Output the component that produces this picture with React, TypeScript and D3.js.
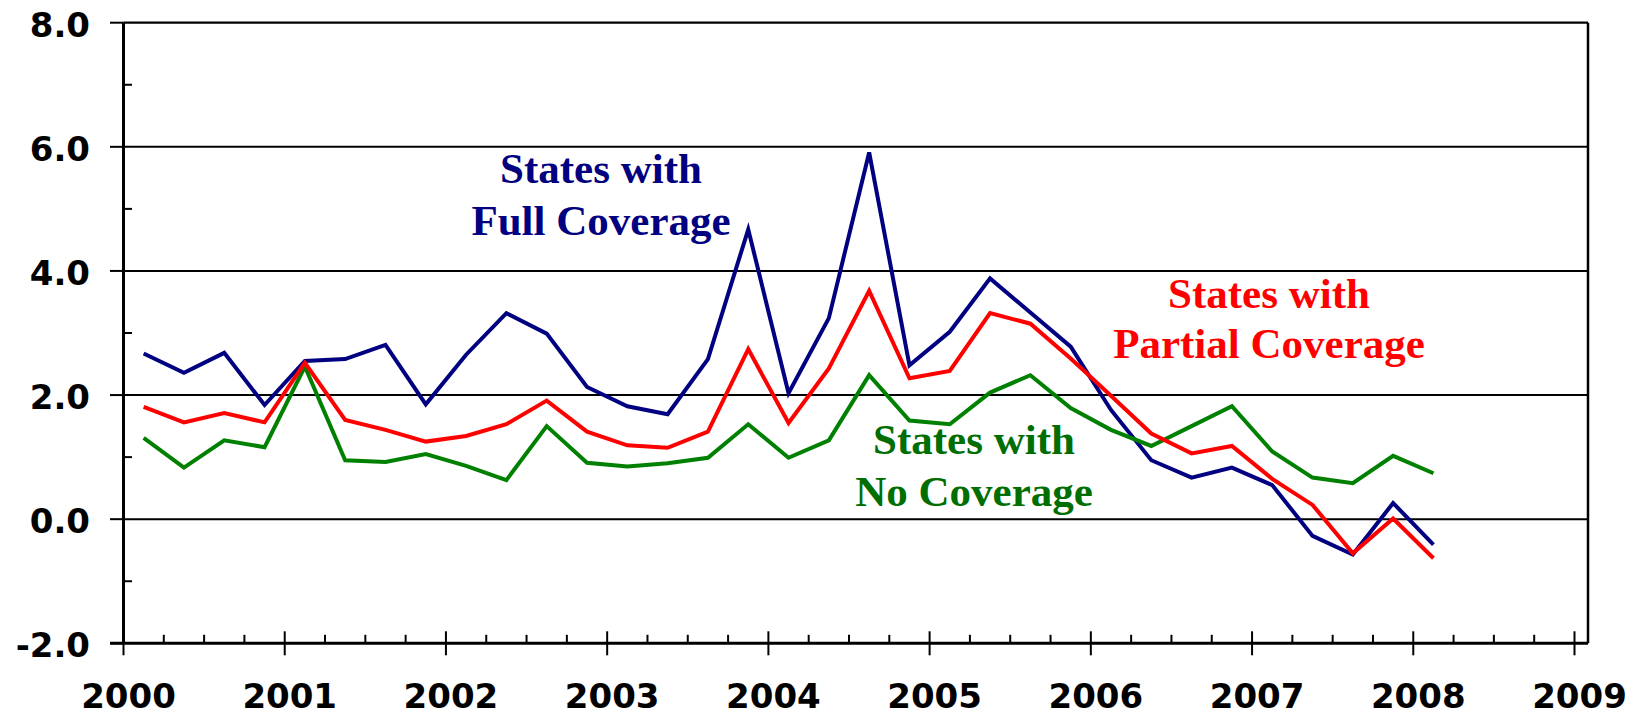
import React from "react";
import * as d3 from "d3";

// ---- Data ----
const quarterLabels = [
  "2000Q1","2000Q2","2000Q3","2000Q4",
  "2001Q1","2001Q2","2001Q3","2001Q4",
  "2002Q1","2002Q2","2002Q3","2002Q4",
  "2003Q1","2003Q2","2003Q3","2003Q4",
  "2004Q1","2004Q2","2004Q3","2004Q4",
  "2005Q1","2005Q2","2005Q3","2005Q4",
  "2006Q1","2006Q2","2006Q3","2006Q4",
  "2007Q1","2007Q2","2007Q3","2007Q4",
  "2008Q1",
];

const fullCoverage = [
  2.67, 2.36, 2.68, 1.84,
  2.55, 2.58, 2.81, 1.85,
  2.65, 3.32, 2.99, 2.13,
  1.82, 1.69, 2.58, 4.67,
  2.03, 3.24, 5.91, 2.48,
  3.02, 3.88, 3.33, 2.78,
  1.76, 0.95, 0.67, 0.83,
  0.55, -0.27, -0.57, 0.26,
  -0.41,
];

const partialCoverage = [
  1.81, 1.56, 1.71, 1.56,
  2.52, 1.60, 1.44, 1.25,
  1.34, 1.53, 1.91, 1.41,
  1.19, 1.15, 1.41, 2.74,
  1.55, 2.43, 3.68, 2.27,
  2.39, 3.32, 3.15, 2.59,
  1.99, 1.38, 1.06, 1.18,
  0.65, 0.23, -0.55, 0.01,
  -0.63,
];

const noCoverage = [
  1.31, 0.83, 1.27, 1.16,
  2.46, 0.95, 0.92, 1.05,
  0.86, 0.63, 1.50, 0.91,
  0.85, 0.90, 0.99, 1.53,
  0.99, 1.27, 2.32, 1.59,
  1.53, 2.04, 2.32, 1.79,
  1.44, 1.18, 1.50, 1.82,
  1.09, 0.67, 0.58, 1.02,
  0.74,
];

const yearTicks = [2000, 2001, 2002, 2003, 2004, 2005, 2006, 2007, 2008, 2009];
const yMajorTicks = [-2, 0, 2, 4, 6, 8];
const yMinorTicks = [-1, 1, 3, 5, 7];
const gridValues = [0, 2, 4, 6];

// ---- Layout ----
const W = 1649;
const H = 716;
const xLeft = 123.5;
const xRightFrame = 1588;

const x = d3.scaleLinear().domain([2000, 2009]).range([xLeft, 1574.5]);
const y = d3.scaleLinear().domain([-2, 8]).range([643.3, 22.7]);

const quarterPos = (label: string) => {
  const yr = +label.slice(0, 4);
  const q = +label.slice(5);
  return yr + (q - 1) * 0.25 + 0.125;
};

const minorXTicks: number[] = [];
yearTicks.slice(0, -1).forEach((yr) => {
  [0.25, 0.5, 0.75].forEach((f) => minorXTicks.push(yr + f));
});

const lineGen = d3
  .line<number>()
  .x((_, i) => x(quarterPos(quarterLabels[i])))
  .y((v) => y(v));

const series = [
  { name: "full", values: fullCoverage, color: "#000080" },
  { name: "none", values: noCoverage, color: "#008000" },
  { name: "partial", values: partialCoverage, color: "#FF0000" },
];

const tickFont = {
  fontFamily: "'DejaVu Sans', Verdana, sans-serif",
  fontWeight: 700,
  fontSize: 34,
} as const;

const labelFont = {
  fontFamily: "'Liberation Serif', 'Times New Roman', serif",
  fontWeight: 700,
  fontSize: 43,
} as const;

export default function App() {
  const yBottom = y(-2);
  const yTop = y(8);
  return (
    <svg
      width={W}
      height={H}
      style={{ position: "absolute", left: 0, top: 0, background: "#fff" }}
    >
      {/* gridlines */}
      {gridValues.map((v) => (
        <line key={"g" + v} x1={xLeft} x2={xRightFrame} y1={y(v)} y2={y(v)} stroke="#000" strokeWidth={2} />
      ))}
      {/* top frame */}
      <line x1={xLeft} x2={xRightFrame} y1={yTop} y2={yTop} stroke="#000" strokeWidth={2.3} />
      {/* right frame */}
      <line x1={xRightFrame} x2={xRightFrame} y1={yTop} y2={yBottom} stroke="#000" strokeWidth={2.5} />

      {/* y major ticks (outside) */}
      {yMajorTicks.map((v) => (
        <line key={"ym" + v} x1={110} x2={xLeft} y1={y(v)} y2={y(v)} stroke="#000" strokeWidth={2} />
      ))}
      {/* y minor ticks (inside) */}
      {yMinorTicks.map((v) => (
        <line key={"yn" + v} x1={xLeft} x2={132} y1={y(v)} y2={y(v)} stroke="#000" strokeWidth={2} />
      ))}
      {/* x minor ticks (inside) */}
      {minorXTicks.map((v) => (
        <line key={"xn" + v} x1={x(v)} x2={x(v)} y1={yBottom - 8.5} y2={yBottom} stroke="#000" strokeWidth={2} />
      ))}
      {/* x major ticks (cross) */}
      {yearTicks.map((v) => (
        <line key={"xm" + v} x1={x(v)} x2={x(v)} y1={yBottom - 12} y2={yBottom + 12} stroke="#000" strokeWidth={2} />
      ))}

      {/* axes */}
      <line x1={xLeft} x2={xLeft} y1={yTop} y2={yBottom} stroke="#000" strokeWidth={3} />
      <line x1={110} x2={xRightFrame} y1={yBottom} y2={yBottom} stroke="#000" strokeWidth={3} />

      {/* series */}
      {series.map((s) => (
        <path
          key={s.name}
          d={lineGen(s.values) || ""}
          fill="none"
          stroke={s.color}
          strokeWidth={4}
          strokeLinejoin="miter"
        />
      ))}

      {/* y tick labels */}
      {yMajorTicks.map((v) => (
        <text key={"yl" + v} x={90} y={y(v) + 2} textAnchor="end" dominantBaseline="central" style={tickFont}>
          {v.toFixed(1)}
        </text>
      ))}
      {/* x tick labels */}
      {yearTicks.map((v) => (
        <text key={"xl" + v} x={x(v) + 5} y={707.5} textAnchor="middle" style={tickFont}>
          {String(v)}
        </text>
      ))}

      {/* series labels */}
      <g style={labelFont} fill="#000080" textAnchor="middle">
        <text x={601} y={183}>States with</text>
        <text x={601} y={235}>Full Coverage</text>
      </g>
      <g style={labelFont} fill="#FF0000" textAnchor="middle">
        <text x={1269} y={308}>States with</text>
        <text x={1269} y={358}>Partial Coverage</text>
      </g>
      <g style={labelFont} fill="#006E00" textAnchor="middle">
        <text x={974} y={454}>States with</text>
        <text x={974} y={506}>No Coverage</text>
      </g>
    </svg>
  );
}
